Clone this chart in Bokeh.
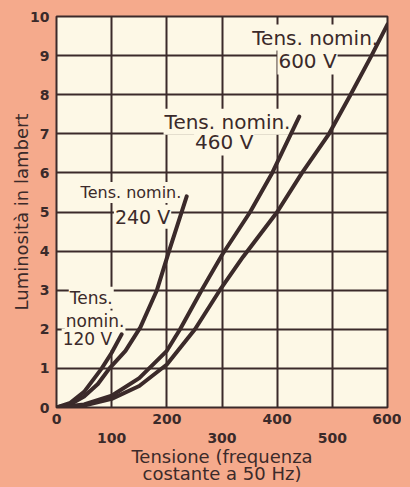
from bokeh.plotting import figure
from bokeh.models import Range1d, FixedTicker, LinearAxis
from bokeh.embed import file_html
from bokeh.resources import INLINE
from bokeh.core.properties import value

# ---- data ----
v120 = [0, 25, 50, 82, 100, 118]
l120 = [0, 0.12, 0.4, 1.0, 1.4, 1.87]

v240 = [0, 25, 50, 75, 96, 125, 152, 182, 204, 236]
l240 = [0, 0.08, 0.28, 0.6, 1.0, 1.45, 2.05, 3.0, 4.0, 5.4]

v460 = [0, 50, 100, 150, 200, 224, 263, 300, 351, 391, 440]
l460 = [0, 0.08, 0.3, 0.75, 1.45, 2.0, 3.0, 3.9, 5.0, 6.0, 7.44]

v600 = [0, 50, 100, 150, 200, 251, 296, 338, 400, 445, 494, 533, 571, 600]
l600 = [0, 0.05, 0.22, 0.55, 1.1, 2.0, 3.0, 3.85, 5.0, 6.0, 7.0, 8.0, 9.0, 9.8]

x_ticks = [0, 100, 200, 300, 400, 500, 600]
x_ticks_lower_row = [100, 300, 500]
y_ticks = [0, 1, 2, 3, 4, 5, 6, 7, 8, 9, 10]

x_title_1 = "Tensione (frequenza"
x_title_2 = "costante a 50 Hz)"
y_title = "Luminosità in lambert"

lab_text = ["Tens. nomin.", "600 V",
            "Tens. nomin.", "460 V",
            "Tens. nomin.", "240 V",
            "Tens.", "nomin.", "120 V"]
lab_x = [469, 455, 310, 304, 135, 156, 63, 70, 56]
lab_y = [9.46, 8.85, 7.31, 6.78, 5.50, 4.88, 2.81, 2.20, 1.74]
lab_size = ["20px", "20px", "20px", "20px", "16px", "19px", "17px", "17px", "17px"]

SALMON = "#F5AA8C"
CREAM = "#FDF8E6"
INK = "#3B2A2A"
FONT = "DejaVu Sans"

p = figure(width=401, height=486,
           x_range=Range1d(0, 600), y_range=Range1d(0, 10),
           output_backend="svg", toolbar_location=None,
           min_border_left=56, min_border_right=14,
           min_border_top=16, min_border_bottom=79,
           background_fill_color=CREAM, border_fill_color=SALMON)

p.outline_line_color = INK
p.outline_line_width = 2

# grids
p.xgrid.ticker = FixedTicker(ticks=x_ticks)
p.ygrid.ticker = FixedTicker(ticks=y_ticks)
for g in (p.xgrid[0], p.ygrid[0]):
    g.grid_line_color = INK
    g.grid_line_width = 2
    g.grid_line_alpha = 1


def style_axis(ax):
    ax.axis_line_color = None
    ax.major_tick_out = 0
    ax.major_tick_in = 0
    ax.minor_tick_line_color = None
    ax.major_label_text_font = FONT
    ax.major_label_text_font_style = "bold"
    ax.major_label_text_font_size = "14px"
    ax.major_label_text_color = INK
    ax.axis_label_text_font = FONT
    ax.axis_label_text_font_style = "normal"
    ax.axis_label_text_font_size = "18px"
    ax.axis_label_text_color = INK


# y axis
ya = p.yaxis[0]
ya.ticker = FixedTicker(ticks=y_ticks)
style_axis(ya)
ya.major_label_standoff = 7
ya.axis_label = y_title
ya.axis_label_standoff = -5

# x axis: staggered labels (odd hundreds on a second row) + first title line
xa = p.xaxis[0]
xa.ticker = FixedTicker(ticks=x_ticks)
style_axis(xa)
xa.major_label_standoff = 3
xa.major_label_overrides = {t: "\n" + str(t) for t in x_ticks_lower_row}
xa.axis_label = x_title_1
xa.axis_label_standoff = -3

# second title line
xc = LinearAxis(ticker=FixedTicker(ticks=[]))
style_axis(xc)
xc.major_label_standoff = 0
xc.axis_label = x_title_2
xc.axis_label_standoff = -7
p.add_layout(xc, "below")

# labels with background boxes hiding the grid
p.text(x=lab_x, y=lab_y, text=lab_text,
       text_align="center", text_baseline="alphabetic",
       text_font=value(FONT), text_font_size=lab_size,
       text_color=INK, background_fill_color=CREAM, padding=1)

# curves
for vx, ly in ((v120, l120), (v240, l240), (v460, l460), (v600, l600)):
    p.line(vx, ly, line_color=INK, line_width=4, line_join="round", line_cap="round")

html = file_html(p, INLINE)
html = html.replace("<body>", '<body style="background-color:%s;">' % SALMON)
open("out.html", "w").write(html)
